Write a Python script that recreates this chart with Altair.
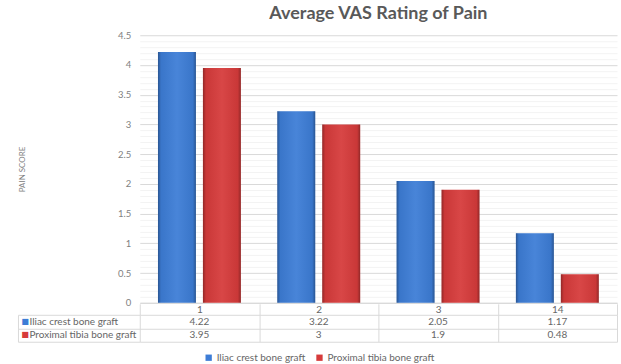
import altair as alt
import pandas as pd

# ---------------- data ----------------
categories = ["1", "2", "3", "14"]
series_names = ["Iliac crest bone graft", "Proximal tibia bone graft"]
iliac_values = [4.22, 3.22, 2.05, 1.17]
tibia_values = [3.95, 3, 1.9, 0.48]
minor_ticks = [round(i * 0.1, 1) for i in range(46)]

rows = []
for s, vals in zip(series_names, [iliac_values, tibia_values]):
    for c, v in zip(categories, vals):
        rows.append({"cat": c, "series": s, "value": v, "label": f"{v:g}"})
df = pd.DataFrame(rows)

# ---------------- styles ----------------
FONT = "Lato"
BLUE = "#3d7dd6"
RED = "#d63b3b"
LINE = "#d9d9d9"
MINOR = "#f3f3f3"
TXT = "#666666"
AX = "#7f7f7f"
major_test = "abs(datum.value * 2 - round(datum.value * 2)) < 0.001"

x_bar = alt.X("cat:N", sort=categories,
              scale=alt.Scale(paddingInner=0, paddingOuter=0),
              axis=alt.Axis(title=None, labels=False, ticks=False, domain=True,
                            domainColor=LINE, grid=False))
x_off = alt.XOffset("series:N", sort=series_names,
                    scale=alt.Scale(paddingInner=0.156, paddingOuter=0.405))
y_bar = alt.Y("value:Q", scale=alt.Scale(domain=[0, 4.5], nice=False),
              axis=alt.Axis(title="PAIN SCORE", values=minor_ticks,
                            labelExpr=f"{major_test} ? '' + datum.value : ''",
                            labelOverlap=False, ticks=False, domain=False,
                            gridColor={"condition": {"test": major_test, "value": LINE},
                                       "value": MINOR},
                            labelColor=AX, labelFontSize=9.5, labelPadding=9,
                            titleColor=AX, titleFontSize=8, titleFontWeight="normal",
                            titlePadding=91))

bars = alt.Chart(df).mark_bar().encode(
    x=x_bar, xOffset=x_off, y=y_bar,
    color=alt.Color("series:N", sort=series_names,
                    scale=alt.Scale(domain=series_names, range=[BLUE, RED]),
                    legend=alt.Legend(orient="none", legendX=64, legendY=318,
                                      direction="horizontal", title=None,
                                      symbolType="square", symbolSize=40,
                                      symbolStrokeWidth=0, labelFontSize=10,
                                      labelColor=TXT, labelFont=FONT,
                                      columnPadding=9, labelOffset=3)),
)

shade = alt.Chart(df).mark_bar(
    fill=alt.LinearGradient(
        gradient="linear", x1=0, x2=1, y1=0, y2=0,
        stops=[alt.GradientStop(color="rgba(0,0,0,0.32)", offset=0),
               alt.GradientStop(color="rgba(0,0,0,0.06)", offset=0.08),
               alt.GradientStop(color="rgba(255,255,255,0.06)", offset=0.5),
               alt.GradientStop(color="rgba(0,0,0,0.06)", offset=0.92),
               alt.GradientStop(color="rgba(0,0,0,0.32)", offset=1)])
).encode(x=x_bar, xOffset=x_off, y=y_bar)

bar_chart = alt.layer(bars, shade).properties(
    width=478, height=268,
    title=alt.TitleParams("Average VAS Rating of Pain", font=FONT, fontSize=18,
                          fontWeight="bold", color="#595959", anchor="middle",
                          frame="group", offset=7),
)

# ---------------- data table ----------------
x_tbl = alt.X("cat:N", sort=categories,
              scale=alt.Scale(paddingInner=0, paddingOuter=0),
              axis=alt.Axis(orient="top", title=None, domain=False, ticks=True,
                            tickBand="extent", tickSize=11, tickColor=LINE,
                            grid=True, gridColor=LINE, labelAngle=0,
                            labelBaseline="middle", labelPadding=-5.5,
                            labelColor=TXT, labelFontSize=10))
y_tbl = alt.Y("series:N", sort=series_names,
              scale=alt.Scale(paddingInner=0, paddingOuter=0),
              axis=alt.Axis(title=None, domain=False, ticks=True, tickBand="extent",
                            tickSize=122, tickColor=LINE, grid=True, gridColor=LINE,
                            labelAlign="left", labelPadding=-11, labelColor=TXT,
                            labelFontSize=10))

cells = alt.Chart(df).mark_text(fontSize=10, color=TXT, font=FONT).encode(
    x=x_tbl, y=y_tbl, text="label:N")

swatches = alt.Chart(df).mark_text(opacity=0).encode(
    x=x_tbl,
    y=alt.Y("series:N", sort=series_names,
            axis=alt.Axis(orient="left", offset=122, title=None, domain=True,
                          domainColor=LINE, ticks=False, grid=False,
                          labelExpr="'■'", labelAlign="left", labelPadding=-3,
                          labelFontSize=8, labelFont="DejaVu Sans",
                          labelColor={"condition": {"test": f"datum.value == '{series_names[0]}'",
                                                    "value": BLUE},
                                      "value": RED})),
)

table = alt.layer(cells, swatches).resolve_axis(y="independent").properties(
    width=478, height=27)

chart = alt.vconcat(bar_chart, table, spacing=12, bounds="flush").properties(
    padding={"left": 17, "top": 5, "right": 3, "bottom": 0}
).configure_view(stroke=None).configure_axis(labelFont=FONT, titleFont=FONT)

chart.save("out.html", embed_options={"renderer": "svg", "actions": False})
